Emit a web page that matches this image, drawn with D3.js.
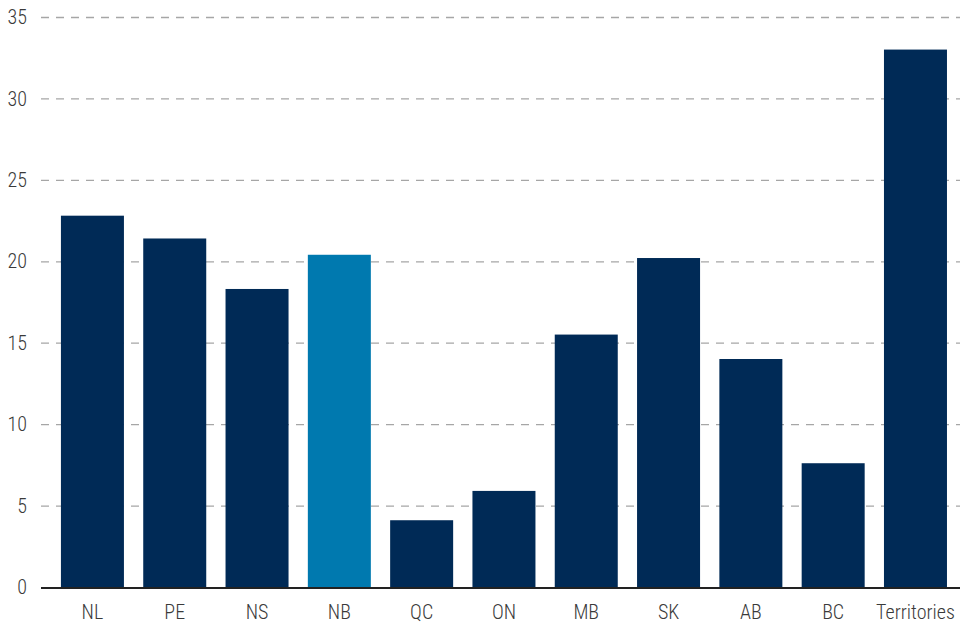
<!DOCTYPE html>
<html>
<head>
<meta charset="utf-8">
<script src="https://cdn.jsdelivr.net/npm/d3@7"></script>
<style>
  body { margin: 0; background: #fff; }
  svg text { font-family: "Roboto Condensed", "Liberation Sans Narrow", "DejaVu Sans Condensed", sans-serif; font-weight: 300; }
</style>
</head>
<body>
<svg id="chart" width="960" height="623"></svg>
<script>
var width = 960, height = 623

var provinces = ["NL", "PE", "NS", "NB", "QC", "ON", "MB", "SK", "AB", "BC", "Territories"];
var values = [22.8, 21.4, 18.3, 20.4, 4.1, 5.9, 15.5, 20.2, 14.0, 7.6, 33.0];
var highlight = "NB";
var yTicks = [0, 5, 10, 15, 20, 25, 30, 35];

var svg = d3.select("#chart");

var x = d3.scaleBand()
    .domain(provinces)
    .range([51.3, 956.6])
    .paddingInner(0.2345)
    .paddingOuter(0.117);

var y = d3.scaleLinear()
    .domain([0, 35])
    .range([587, 17]);

// grid lines
svg.append("g")
    .selectAll("line")
    .data(yTicks.filter(function(d) { return d > 0; }))
    .join("line")
    .attr("x1", 41)
    .attr("x2", 960)
    .attr("y1", function(d) { return y(d) + 0.5; })
    .attr("y2", function(d) { return y(d) + 0.5; })
    .attr("stroke", "#a6a6a6")
    .attr("stroke-width", 1.3)
    .attr("stroke-dasharray", "8,7");

// y labels
svg.append("g")
    .selectAll("text")
    .data(yTicks)
    .join("text")
    .attr("x", 27)
    .attr("y", function(d) { return y(d); })
    .attr("dy", "0.36em")
    .attr("text-anchor", "end")
    .attr("font-size", 20)
    .attr("fill", "#3a3a3a")
    .text(function(d) { return d; });

// bars
svg.append("g")
    .selectAll("rect")
    .data(provinces)
    .join("rect")
    .attr("x", function(d) { return x(d); })
    .attr("width", x.bandwidth())
    .attr("y", function(d, i) { return y(values[i]); })
    .attr("height", function(d, i) { return y(0) - y(values[i]); })
    .attr("fill", function(d) { return d === highlight ? "#0079af" : "#002a56"; });

// axis line
svg.append("line")
    .attr("x1", 41)
    .attr("x2", 960)
    .attr("y1", y(0) + 1)
    .attr("y2", y(0) + 1)
    .attr("stroke", "#222")
    .attr("stroke-width", 2);

// x labels
svg.append("g")
    .selectAll("text")
    .data(provinces)
    .join("text")
    .attr("x", function(d) { return x(d) + x.bandwidth() / 2; })
    .attr("y", 619)
    .attr("text-anchor", "middle")
    .attr("font-size", 20)
    .attr("fill", "#3a3a3a")
    .text(function(d) { return d; });
</script>
</body>
</html>
